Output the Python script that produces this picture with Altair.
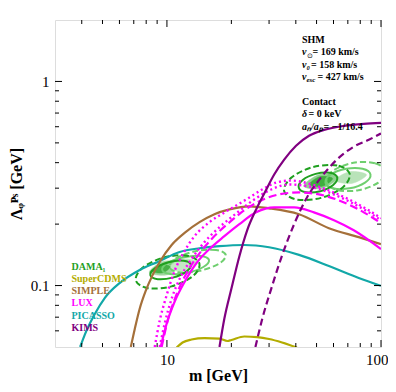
import altair as alt
import pandas as pd

# ---------------- data ----------------
picasso_m = [3.93, 4.19, 4.61, 5.13, 6.03, 7.46, 9.05, 11.46, 14.2, 17.6, 23.0, 30.0, 41.4, 57.1, 78.7, 100]
picasso_L = [0.05, 0.0595, 0.0728, 0.0871, 0.1031, 0.1193, 0.1305, 0.146, 0.1523, 0.156, 0.158, 0.154, 0.1413, 0.1247, 0.109, 0.0997]

simple_m = [6.78, 7.08, 7.46, 7.96, 8.58, 9.25, 10.52, 12.22, 14.2, 16.67, 19.6, 24.3, 30.0, 41.4, 57.1, 78.7, 100]
simple_L = [0.05, 0.0615, 0.077, 0.0942, 0.1128, 0.1305, 0.158, 0.1827, 0.2044, 0.2236, 0.236, 0.2444, 0.239, 0.2236, 0.191, 0.1726, 0.1596]

kims_m = [17.6, 18.55, 20.0, 21.8, 23.7, 26.1, 28.8, 31.7, 35.3, 40.1, 46.1, 54.2, 67.1, 83.1, 100]
kims_L = [0.05, 0.0689, 0.0964, 0.1393, 0.1865, 0.236, 0.289, 0.35, 0.414, 0.484, 0.5415, 0.579, 0.606, 0.62, 0.626]

kims2_m = [25.9, 27.9, 30.7, 34.5, 39.3, 45.1, 52.4, 62.2, 74.6, 87.7, 100]
kims2_L = [0.05, 0.0689, 0.0964, 0.1405, 0.2, 0.27, 0.338, 0.414, 0.479, 0.518, 0.556]

cdms_m = [11.1, 11.83, 13.03, 14.97, 17.6, 19.16, 20.0, 22.98, 26.4, 30.0, 34.5, 40.5]
cdms_L = [0.0497, 0.0526, 0.0544, 0.0553, 0.055, 0.0535, 0.0541, 0.0563, 0.0559, 0.0547, 0.0526, 0.0497]

luxA_m = [8.77, 9.25, 9.86, 10.86, 12.09, 13.45, 15.8, 18.95, 23.5, 27.87, 32.4, 38.0, 46.1, 57.1, 70.8, 87.7, 100]
luxA_L = [0.05, 0.0673, 0.0862, 0.1179, 0.1476, 0.1746, 0.2044, 0.231, 0.2643, 0.2956, 0.3197, 0.327, 0.316, 0.2922, 0.2643, 0.2336, 0.2137]

luxB_m = [9.25, 9.76, 10.52, 11.58, 13.03, 14.97, 17.59, 21.1, 25.6, 30.7, 37.2, 46.1, 57.1, 70.8, 87.7, 100]
luxB_L = [0.05, 0.0651, 0.0862, 0.1102, 0.1349, 0.1632, 0.1931, 0.2259, 0.2643, 0.2956, 0.3128, 0.3058, 0.2859, 0.2585, 0.2284, 0.2089]

luxC_m = [9.45, 10.08, 10.98, 12.22, 13.89, 16.14, 19.16, 22.98, 27.57, 33.4, 41.4, 51.3, 63.6, 78.7, 100]
luxC_L = [0.05, 0.0673, 0.0881, 0.1128, 0.1395, 0.1688, 0.2, 0.2336, 0.2614, 0.2796, 0.2859, 0.2796, 0.2614, 0.236, 0.2021]

luxD_m = [9.35, 9.97, 10.86, 12.09, 13.75, 15.8, 18.55, 21.8, 26.1, 31.7, 39.3, 48.6, 60.3, 74.6, 100]
luxD_L = [0.05, 0.0651, 0.0833, 0.1042, 0.129, 0.151, 0.1746, 0.2, 0.2284, 0.2416, 0.2416, 0.2284, 0.2089, 0.1866, 0.151]

# DAMA contours (closed)
dl_solid_m = [12.93, 11.95, 10.17, 8.78, 8.37, 9.06, 10.64, 12.32]
dl_solid_L = [0.1267, 0.1323, 0.130, 0.1214, 0.1122, 0.1074, 0.1094, 0.1171]
dl_dash_m = [14.18, 12.45, 9.66, 7.69, 7.16, 8.15, 10.50, 13.21]
dl_dash_L = [0.1283, 0.140, 0.1372, 0.1222, 0.1059, 0.0971, 0.0991, 0.1112]
ll_solid_m = [15.72, 14.41, 12.0, 10.1, 9.50, 10.36, 12.44, 14.79]
ll_solid_L = [0.1334, 0.1397, 0.1376, 0.129, 0.1193, 0.1139, 0.1156, 0.1233]
ll_dash_m = [18.83, 16.96, 13.58, 11.02, 10.25, 11.38, 14.21, 17.51]
ll_dash_L = [0.1411, 0.1495, 0.1472, 0.1359, 0.1233, 0.1163, 0.1181, 0.128]

dr_solid_m = [62.4, 57.7, 49.5, 43.1, 41.3, 44.7, 52.0, 59.8]
dr_solid_L = [0.339, 0.357, 0.3525, 0.329, 0.3017, 0.2866, 0.290, 0.311]
dr_dash_m = [71.4, 62.4, 48.1, 38.0, 35.3, 40.4, 52.5, 66.4]
dr_dash_L = [0.3529, 0.3878, 0.3805, 0.337, 0.2897, 0.2637, 0.2688, 0.3034]
lr_solid_m = [89.3, 82.0, 68.8, 58.2, 55.0, 59.7, 71.3, 84.2]
lr_solid_L = [0.3499, 0.3733, 0.3733, 0.350, 0.3197, 0.2997, 0.2994, 0.3194]
lr_dash_m = [104.7, 93.7, 74.3, 59.9, 55.6, 62.1, 78.3, 97.1]
lr_dash_L = [0.3626, 0.3975, 0.3993, 0.3662, 0.3226, 0.2943, 0.293, 0.3194]

# DAMA shaded best-fit regions
fl_out_m = [11.75, 9.67, 8.27, 10.05]
fl_out_L = [0.1281, 0.1316, 0.1161, 0.113]
fl_lt_m = [13.67, 11.64, 10.24, 12.02]
fl_lt_L = [0.1313, 0.1346, 0.1211, 0.1181]
fl_in_m = [10.37, 9.35, 8.61, 9.55]
fl_in_L = [0.1237, 0.126, 0.1175, 0.1154]
fr_mid_m = [63.2, 51.4, 43.5, 53.5]
fr_mid_L = [0.3408, 0.349, 0.3068, 0.2997]
fr_lt_m = [85.6, 71.5, 61.0, 73.1]
fr_lt_L = [0.349, 0.3613, 0.3279, 0.3166]
fr_in_m = [59.4, 51.7, 46.3, 53.2]
fr_in_L = [0.3348, 0.3413, 0.3124, 0.3065]

legend_names = ["DAMA\u2081", "SuperCDMS", "SIMPLE", "LUX", "PICASSO", "KIMS"]
legend_colors = ["#1fa01f", "#b3ac00", "#a5703a", "#ff00ff", "#12a8a8", "#800080"]

x_major = [10, 100]
x_minor = [4, 5, 6, 7, 8, 9, 20, 30, 40, 50, 60, 70, 80, 90]
y_major = [0.1, 1]
y_minor = [0.06, 0.07, 0.08, 0.09, 0.2, 0.3, 0.4, 0.5, 0.6, 0.7, 0.8, 0.9]

# ---------------- chart ----------------
W, H = 326, 327
FONT = "Liberation Serif"
xs = alt.Scale(type="log", domain=[3, 100], nice=False)
ys = alt.Scale(type="log", domain=[0.05, 2], nice=False)

X = alt.X("m:Q", scale=xs, axis=alt.Axis(
    values=x_major, format="~g", ticks=False, domain=False, grid=False,
    labelFont=FONT, labelFontSize=15, labelColor="black", labelPadding=5,
    labelFlush=5, labelFlushOffset=7, title="m [GeV]", titleFont=FONT, titleFontSize=16,
    titleFontWeight="bold", titleColor="black", titleY=33,
    titleBaseline="alphabetic"))
Y = alt.Y("L:Q", scale=ys, axis=alt.Axis(
    values=y_major, format="~g", ticks=False, domain=False, grid=False,
    labelFont=FONT, labelFontSize=15, labelColor="black", labelPadding=6,
    labelFlush=False, title="\u039b\u1d69\u1d3e\u02e2 [GeV]", titleFont=FONT,
    titleFontSize=16, titleFontWeight="bold", titleColor="black",
    titleX=-34, titleBaseline="alphabetic"))


def line(m, L, color, dash=None, width=2.0, interp="monotone"):
    df = pd.DataFrame({"m": m, "L": L, "i": list(range(len(m)))})
    kw = dict(color=color, strokeWidth=width, clip=True, interpolate=interp)
    if dash:
        kw["strokeDash"] = dash
    return alt.Chart(df).mark_line(**kw).encode(x=X, y=Y, order="i:Q")


def contour(m, L, color, dash=None, width=2.0):
    return line(m, L, color, dash, width, interp="cardinal-closed")


def fill(m, L, color):
    df = pd.DataFrame({"m": m, "L": L, "i": list(range(len(m)))})
    return alt.Chart(df).mark_line(
        fill=color, stroke=color, strokeWidth=0.5, clip=True,
        interpolate="cardinal-closed").encode(x=X, y=Y, order="i:Q")


def ticks(vals, horizontal, length):
    layers = []
    if horizontal:
        df = pd.DataFrame({"m": vals})
        for y0, y1 in [(H, H - length), (0, length)]:
            layers.append(alt.Chart(df).mark_rule(color="black", strokeWidth=1).encode(
                x=X, y=alt.value(y0), y2=alt.value(y1)))
    else:
        df = pd.DataFrame({"L": vals})
        for x0, x1 in [(0, length), (W, W - length)]:
            layers.append(alt.Chart(df).mark_rule(color="black", strokeWidth=1).encode(
                y=Y, x=alt.value(x0), x2=alt.value(x1)))
    return layers


def text(s, x, y, color="black", size=10, weight="bold", style="normal"):
    return alt.Chart(pd.DataFrame({"t": [s]})).mark_text(
        align="left", baseline="middle", font=FONT, fontSize=size,
        fontWeight=weight, fontStyle=style, color=color).encode(
        x=alt.value(x), y=alt.value(y), text="t:N")


DG, LG = "#1fa01f", "#6fcf6f"
layers = []
# shaded regions
layers += [fill(fl_out_m, fl_out_L, "#9fd79f"), fill(fl_lt_m, fl_lt_L, "#c4e8c4"),
           fill(fl_in_m, fl_in_L, "#45b045"),
           fill(fr_lt_m, fr_lt_L, "#b9e3b9"), fill(fr_mid_m, fr_mid_L, "#8fd08f"),
           fill(fr_in_m, fr_in_L, "#3fae3f")]
# DAMA contours
layers += [contour(ll_solid_m, ll_solid_L, LG), contour(ll_dash_m, ll_dash_L, LG, [6, 3]),
           contour(dl_solid_m, dl_solid_L, DG), contour(dl_dash_m, dl_dash_L, DG, [6, 3]),
           contour(lr_solid_m, lr_solid_L, LG), contour(lr_dash_m, lr_dash_L, LG, [6, 3]),
           contour(dr_solid_m, dr_solid_L, DG), contour(dr_dash_m, dr_dash_L, DG, [6, 3])]
# exclusion curves
layers += [line(picasso_m, picasso_L, "#12a8a8", width=2.2),
           line(simple_m, simple_L, "#a5703a", width=2.2),
           line(cdms_m, cdms_L, "#b3ac00", width=2.2),
           line(luxD_m, luxD_L, "#ff00ff", width=2.2),
           line(luxC_m, luxC_L, "#ff00ff", [8, 4], width=2.2),
           line(luxB_m, luxB_L, "#ff00ff", [2, 3], width=2.4),
           line(luxA_m, luxA_L, "#ff00ff", [2, 3], width=2.4),
           line(kims_m, kims_L, "#800080", width=2.2),
           line(kims2_m, kims2_L, "#800080", [7, 4], width=2.2)]
# ticks
layers += ticks(x_major, True, 7) + ticks(x_minor, True, 4)
layers += ticks(y_major, False, 7) + ticks(y_minor, False, 4)
# legend
for i, (n, c) in enumerate(zip(legend_names, legend_colors)):
    layers.append(text(n, 16.5, 246.5 + 12.3 * i, color=c, size=10))
# model text
layers += [text("SHM", 247, 20),
           text("v", 247, 32.3, style="italic"), text("\u2299", 251.5, 35.5, size=7, weight="normal"),
           text("= 169 km/s", 257.5, 32.3),
           text("v\u2080", 247, 44.5, style="italic"), text("= 158 km/s", 256, 44.5),
           text("v", 247, 57.3, style="italic"), text("esc", 251.5, 59.5, size=7, style="italic"),
           text("= 427 km/s", 262.5, 57.3),
           text("Contact", 247, 81.7),
           text("\u03b4", 247, 94.3, style="italic"), text("= 0 keV", 253.5, 94.3),
           text("a\u2099/a\u209a", 247, 107.3, style="italic"), text("= \u22121/16.4", 268.5, 107.3)]

chart = alt.layer(*layers).properties(
    width=W, height=H, autosize="none",
    padding={"left": 47, "top": 12, "right": 7, "bottom": 37},
).configure_view(stroke="black", strokeWidth=1.3).configure(background="white")

chart.save("out.html", embed_options={"renderer": "svg", "actions": False})
